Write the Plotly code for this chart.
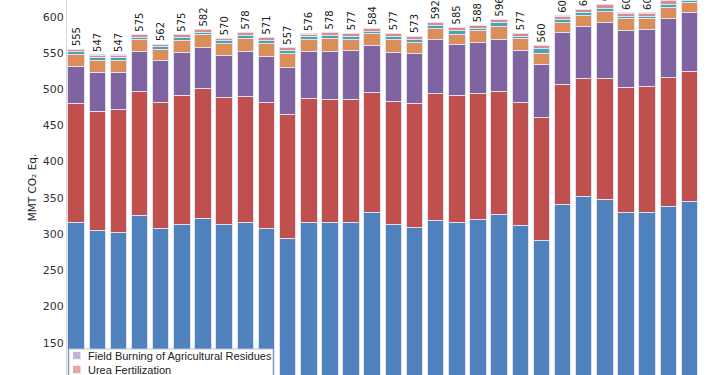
import plotly.graph_objects as go

years = [str(y) for y in range(1990, 2020)]

soil_management = [316.3, 304.3, 302.3, 325.3, 307.8, 313.3, 322.1, 313.3, 316.3, 308.3,
                   294.3, 316.3, 315.3, 315.3, 329.3, 313.3, 309.3, 319.3, 316.3, 320.3,
                   326.3, 312.3, 291.3, 340.3, 351.3, 348.3, 330.3, 329.3, 338.3, 345.3]
enteric_fermentation = [163.8, 165.2, 170.0, 172.0, 174.2, 177.9, 178.4, 174.7, 173.5, 173.2,
                        171.2, 170.2, 169.9, 170.8, 166.6, 170.1, 171.2, 175.2, 174.7, 173.7,
                        170.5, 168.8, 168.9, 166.2, 163.1, 167.0, 172.5, 174.0, 178.4, 179.2]
manure_management = [50.7, 52.9, 51.1, 54.7, 57.1, 59.0, 56.6, 58.5, 62.2, 64.1,
                     63.9, 65.5, 66.4, 67.3, 64.5, 67.3, 69.2, 73.3, 70.3, 70.2,
                     71.0, 72.3, 74.3, 71.0, 72.4, 76.1, 78.0, 78.4, 80.7, 81.7]
rice_cultivation = [16.6, 17.1, 16.3, 16.2, 16.2, 16.7, 18.5, 16.2, 17.2, 17.6,
                    19.4, 16.2, 17.6, 15.4, 16.2, 17.5, 14.5, 15.7, 13.9, 16.9,
                    19.1, 15.8, 14.3, 13.9, 15.2, 15.8, 16.2, 16.2, 15.7, 13.4]
liming = [5.0, 4.6, 4.3, 3.7, 3.5, 4.7, 2.9, 3.8, 5.1, 4.0,
          4.5, 4.0, 4.8, 4.1, 3.1, 5.1, 4.7, 4.2, 5.1, 3.1,
          4.7, 3.4, 6.6, 4.9, 3.1, 4.7, 2.8, 2.2, 3.5, 2.9]
urea_fertilization = [2.4, 2.7, 2.8, 2.9, 3.0, 3.2, 3.3, 3.3, 3.5, 3.6,
                      3.5, 3.6, 3.8, 3.9, 4.1, 3.5, 3.9, 4.1, 4.4, 3.6,
                      4.2, 4.1, 4.3, 4.5, 4.7, 4.9, 5.0, 4.7, 5.2, 5.3]
field_burning = [0.4, 0.4, 0.4, 0.4, 0.4, 0.4, 0.4, 0.4, 0.4, 0.4,
                 0.4, 0.4, 0.4, 0.4, 0.4, 0.4, 0.4, 0.4, 0.5, 0.4,
                 0.4, 0.5, 0.5, 0.4, 0.4, 0.4, 0.4, 0.4, 0.4, 0.4]
totals = [555, 547, 547, 575, 562, 575, 582, 570, 578, 571,
          557, 576, 578, 577, 584, 577, 573, 592, 585, 588,
          596, 577, 560, 601, 610, 617, 605, 605, 622, 628]

series = [
    ("Agricultural Soil Management", soil_management, "#4F81BD"),
    ("Enteric Fermentation", enteric_fermentation, "#C0504D"),
    ("Manure Management", manure_management, "#8064A2"),
    ("Rice Cultivation", rice_cultivation, "#DB8E58"),
    ("Liming", liming, "#45A3BA"),
    ("Urea Fertilization", urea_fertilization, "#DC8B88"),
    ("Field Burning of Agricultural Residues", field_burning, "#AD9BCB"),
]

FONT = "DejaVu Sans"
W, H = 710, 375
ML = 67
PW = W - ML

fig = go.Figure()
for i, (name, vals, color) in enumerate(series):
    last = i == len(series) - 1
    fig.add_trace(go.Bar(
        x=years, y=vals, name=name, showlegend=False,
        marker=dict(color=color, line=dict(color="rgba(225,225,238,1)", width=1)),
        text=[str(t) for t in totals] if last else None,
        textposition="outside" if last else "none",
        textangle=-90,
        constraintext="none",
        textfont=dict(family=FONT, size=10, color="#1a1a1a"),
        cliponaxis=True,
    ))

# Legend box drawn as shapes + annotations (entries listed top of stack first)
def px_x(p):
    return (p - ML) / PW

def px_y(p):
    return 1 - p / H

shapes = [dict(type="rect", xref="paper", yref="paper",
               x0=px_x(69), x1=px_x(273), y0=px_y(349), y1=px_y(460),
               line=dict(color="#B9C3D3", width=1), fillcolor="white", layer="above")]
annotations = []
for k, (name, vals, color) in enumerate(reversed(series)):
    cy = 355.5 + 14 * k
    shapes.append(dict(type="rect", xref="paper", yref="paper",
                       x0=px_x(73), x1=px_x(80.5), y0=px_y(cy + 3.7), y1=px_y(cy - 3.7),
                       line=dict(width=0), fillcolor=color, opacity=0.75, layer="above"))
    annotations.append(dict(xref="paper", yref="paper", x=px_x(86), y=px_y(cy),
                            xanchor="left", yanchor="middle", showarrow=False,
                            text=name, font=dict(family="Liberation Sans", size=11, color="#222222")))

fig.update_layout(
    width=W, height=H,
    barmode="stack", bargap=0.22,
    margin=dict(l=ML, r=0, t=0, b=0, autoexpand=False),
    paper_bgcolor="white", plot_bgcolor="white",
    font=dict(family=FONT, size=11, color="#333333"),
    showlegend=False,
    shapes=shapes,
    annotations=annotations,
)
fig.update_xaxes(
    range=[-0.43, 29.97], showticklabels=False, showgrid=False,
    showline=False, zeroline=False, ticks="",
)
fig.update_yaxes(
    range=[105.4, 623.0], tickvals=[150, 200, 250, 300, 350, 400, 450, 500, 550, 600],
    showgrid=False, zeroline=False, showline=True, linecolor="#D9D9D9", linewidth=1,
    ticks="", ticklen=0, tickfont=dict(family=FONT, size=11, color="#333333"),
    title=dict(text="MMT CO₂ Eq.", font=dict(family=FONT, size=10.5, color="#222222"), standoff=4),
)

fig.write_html(
    "out.html",
    config={"displayModeBar": False},
    post_script="document.body.style.margin='0';document.body.style.padding='0';document.body.style.overflow='hidden';",
)
